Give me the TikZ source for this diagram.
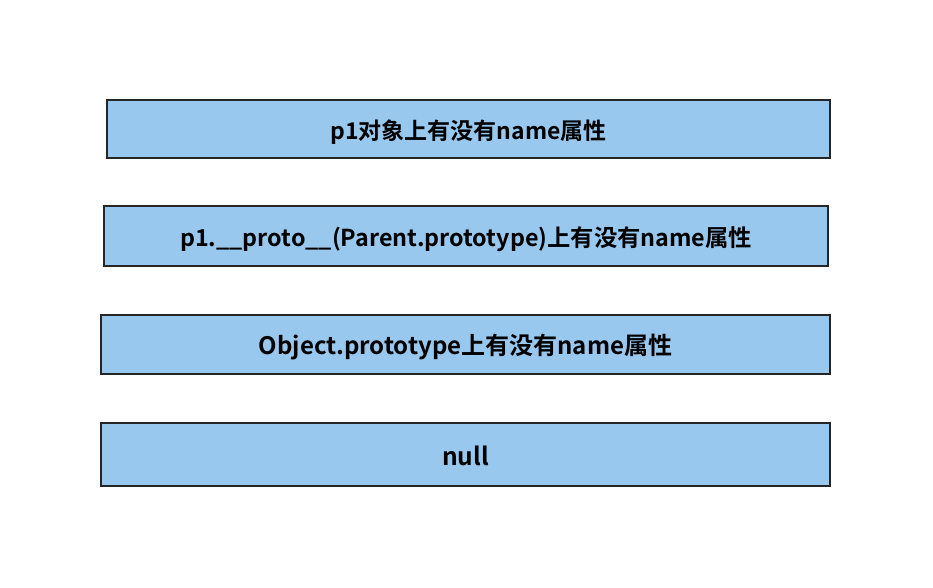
\documentclass[tikz,border=0pt]{standalone}
\usepackage{fontspec}
\newfontfamily\cjkb{Noto Sans CJK SC Bold}
\begin{document}
\begin{tikzpicture}[x=1pt,y=-1pt,
  layer/.style={draw=black!85,line width=1.8pt,fill=boxblue,inner sep=0pt},
  lbl/.style={inner sep=0pt,yshift=-3pt}]
\definecolor{boxblue}{HTML}{99C8EE}
\useasboundingbox (0,0) rectangle (933,587);
\node[layer,minimum width=723pt,minimum height=58pt,
  label={[lbl,font=\cjkb\fontsize{23}{26}\selectfont]center:p1对象上有没有name属性}] (b1) at (468.5,129) {};
\node[layer,minimum width=724pt,minimum height=60pt,
  label={[lbl,font=\cjkb\fontsize{23.3}{26}\selectfont]center:p1.\_\_proto\_\_(Parent.prototype)上有没有name属性}] (b2) at (466,236) {};
\node[layer,minimum width=729pt,minimum height=59pt,
  label={[lbl,font=\cjkb\fontsize{24}{27}\selectfont]center:Object.prototype上有没有name属性}] (b3) at (465.5,344.5) {};
\node[layer,minimum width=729pt,minimum height=63pt,
  label={[lbl,yshift=2pt,font=\cjkb\fontsize{24.5}{27}\selectfont]center:null}] (b4) at (465.5,454.5) {};
\end{tikzpicture}
\end{document}
